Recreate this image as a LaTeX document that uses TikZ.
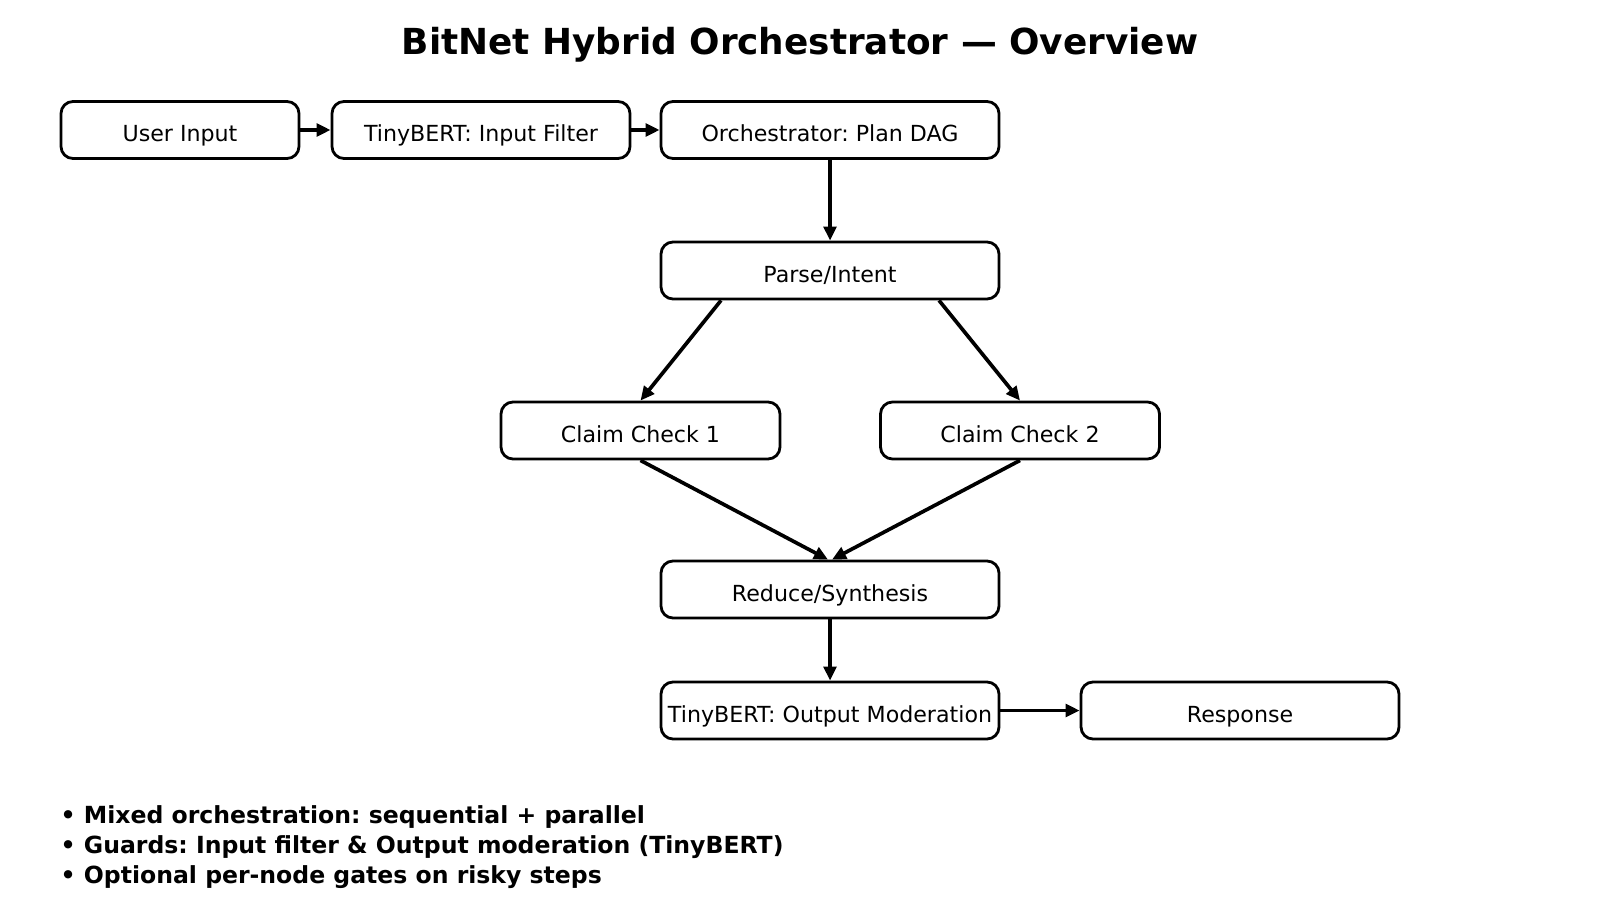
\documentclass[tikz,border=0pt]{standalone}
\usepackage{fontspec}
\setmainfont{DejaVu Sans}
\usetikzlibrary{arrows.meta}
\frenchspacing

\begin{document}
\begin{tikzpicture}
    \tikzstyle{block}=[draw=black,line width=0.8pt,rounded corners=0.12cm,minimum height=0.57cm,inner sep=0pt,text height=7pt,text depth=0.4pt,font=\fontsize{6.3}{7.5}\selectfont]
    \tikzstyle{flow}=[line width=1.05pt,-{Triangle[length=4pt,width=3.6pt]}]

    \useasboundingbox (0,0) rectangle (16,9);

    \node[font=\bfseries\fontsize{10.2}{12}\selectfont] at (8,8.55) (title) {BitNet Hybrid Orchestrator — Overview};

    \node[block,minimum width=2.38cm] at (1.80,7.70) (user) {User Input};
    \node[block,minimum width=2.98cm] at (4.81,7.70) (infilter) {TinyBERT: Input Filter};
    \node[block,minimum width=3.38cm] at (8.30,7.70) (orch) {Orchestrator: Plan DAG};
    \node[block,minimum width=3.38cm] at (8.30,6.295) (parse) {Parse/Intent};
    \node[block,minimum width=2.79cm] at (6.405,4.695) (check1) {Claim Check 1};
    \node[block,minimum width=2.79cm] at (10.20,4.695) (check2) {Claim Check 2};
    \node[block,minimum width=3.38cm] at (8.30,3.105) (reduce) {Reduce/Synthesis};
    \node[block,minimum width=3.38cm] at (8.30,1.895) (outmod) {TinyBERT: Output Moderation};
    \node[block,minimum width=3.18cm] at (12.40,1.895) (resp) {Response};

    \draw[flow] (user) -- (infilter);
    \draw[flow] (infilter) -- (orch);
    \draw[flow] (orch) -- (parse);
    \draw[flow] ([xshift=-1.09cm]parse.south) -- (check1.north);
    \draw[flow] ([xshift=1.09cm]parse.south) -- (check2.north);
    \draw[flow] (check1.south) -- ([xshift=-0.02cm]reduce.north);
    \draw[flow] (check2.south) -- ([xshift=0.02cm]reduce.north);
    \draw[flow] (reduce) -- (outmod);
    \draw[flow] (outmod) -- (resp);

    \node[anchor=west,align=left,inner sep=0pt,font=\bfseries\fontsize{6.7}{8.53}\selectfont] at (0.60,0.525) (notes)
        {• Mixed orchestration: sequential + parallel\\
         • Guards: Input filter \& Output moderation (TinyBERT)\\
         • Optional per-node gates on risky steps};
\end{tikzpicture}
\end{document}
